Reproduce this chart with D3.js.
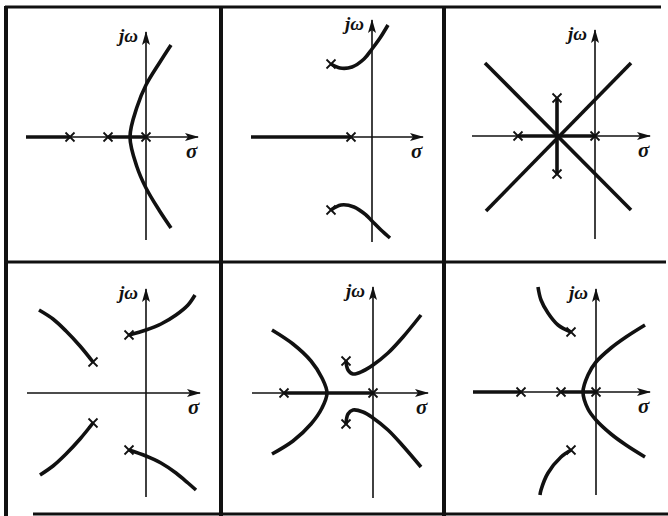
<!DOCTYPE html>
<html>
<head>
<meta charset="utf-8">
<script src="https://cdn.jsdelivr.net/npm/d3@7"></script>
<style>
  body { margin: 0; background: #fff; }
  svg { display: block; }
  .axis-line { stroke: #111; stroke-width: 1.6; fill: none; }
  .locus { stroke: #111; stroke-width: 3.6; fill: none; stroke-linecap: butt; }
  .pole { stroke: #111; stroke-width: 1.8; }
  .lbl { font-family: "Liberation Serif", "DejaVu Serif", serif; font-style: italic; font-weight: bold; fill: #111; }
</style>
</head>
<body>
<svg id="chart" width="668" height="516"></svg>
<script>
// ---- data (units: sigma, omega, origin at axis crossing) ----
var poles1 = [[-76, 0], [-38, 0], [0, 0]];
var realLocus1 = [[-120, -76], [-38, 0]];
var branches1 = [
  [[25, 92], [14, 75], [0, 52], [-9, 30], [-16, 0], [-9, -30], [0, -51], [13, -73], [25, -91]]
];

var poles2 = [[-21, 0], [-41, 73], [-41, -73]];
var realLocus2 = [[-121, -21]];
var branches2 = [
  [[-41, 73], [-32, 69], [-20, 70], [-8, 78], [0, 88], [8, 99], [16, 112]],
  [[-41, -73], [-31, -68], [-18, -70], [-6, -78], [0, -84], [9, -93], [18, -101]]
];

var poles3 = [[-77, 0], [0, 0], [-38, 38], [-38, -38]];
var realLocus3 = [[-77, 0]];
var branches3 = [
  [[-38, 38], [-38, -38]],
  [[-110, 73], [36, -74]],
  [[-109, -75], [36, 73]]
];

var poles4 = [[-17, 58], [-17, -57], [-53, 31], [-53, -30]];
var realLocus4 = [];
var branches4 = [
  [[-53, 31], [-66, 47], [-80, 62], [-93, 74], [-107, 83]],
  [[-53, -30], [-66, -46], [-80, -61], [-93, -73], [-106, -82]],
  [[-17, 58], [0, 63], [15, 69], [30, 78], [42, 88], [49, 98]],
  [[-17, -57], [0, -63], [15, -70], [30, -80], [42, -90], [50, -97]]
];

var poles5 = [[-89, 0], [0, 0], [-27, 32], [-27, -31]];
var realLocus5 = [[-89, 0]];
var branches5 = [
  [[-101, 63], [-80, 49], [-62, 32], [-51, 15], [-46, 0], [-51, -15], [-62, -31], [-80, -48], [-101, -61]],
  [[-27, 32], [-25, 23], [-20, 19], [-10, 22], [0, 28], [15, 40], [30, 56], [48, 78]],
  [[-27, -31], [-25, -21], [-20, -17], [-10, -19], [0, -25], [15, -37], [30, -53], [48, -74]]
];

var poles6 = [[-75, 0], [-35, 0], [0, 0], [-25, 60], [-25, -58]];
var realLocus6 = [[-123, -75], [-35, 0]];
var branches6 = [
  [[49, 67], [30, 55], [15, 44], [0, 30], [-8, 17], [-13, 0], [-8, -17], [0, -28], [15, -42], [30, -53], [49, -65]],
  [[-25, 60], [-38, 67], [-48, 79], [-55, 92], [-58, 105]],
  [[-25, -58], [-35, -65], [-48, -81], [-55, -98], [-56, -103]]
];

var axisLabels = ["j\u03C9", "\u03C3"];

// ---- layout of the six panels ----
var panels = [
  {ox: 146, oy: 137, re: [-120, 52], im: [-103, 105], poles: poles1, real: realLocus1, branches: branches1},
  {ox: 372, oy: 137, re: [-121, 51], im: [-105, 117], poles: poles2, real: realLocus2, branches: branches2},
  {ox: 595, oy: 136, re: [-123, 55], im: [-103, 106], poles: poles3, real: realLocus3, branches: branches3},
  {ox: 146, oy: 393, re: [-119, 54], im: [-104, 104], poles: poles4, real: realLocus4, branches: branches4},
  {ox: 373, oy: 393, re: [-121, 55], im: [-105, 106], poles: poles5, real: realLocus5, branches: branches5},
  {ox: 596, oy: 392, re: [-123, 54], im: [-103, 103], poles: poles6, real: realLocus6, branches: branches6}
];

var svg = d3.select("#chart");

svg.append("defs").append("marker")
  .attr("id", "arrow")
  .attr("viewBox", "0 0 14 8")
  .attr("refX", 13)
  .attr("refY", 4)
  .attr("markerWidth", 14)
  .attr("markerHeight", 8)
  .attr("markerUnits", "userSpaceOnUse")
  .attr("orient", "auto")
  .append("path")
  .attr("d", "M0,0 L14,4 L0,8 L3,4 Z")
  .attr("fill", "#111");

// frame lines
var frame = svg.append("g").attr("stroke", "#111").attr("fill", "none");
frame.append("line").attr("x1", 5).attr("x2", 661).attr("y1", 7).attr("y2", 7).attr("stroke-width", 3);
frame.append("line").attr("x1", 6).attr("x2", 6).attr("y1", 6).attr("y2", 516).attr("stroke-width", 4);
frame.append("line").attr("x1", 221).attr("x2", 221).attr("y1", 6).attr("y2", 516).attr("stroke-width", 4);
frame.append("line").attr("x1", 444).attr("x2", 444).attr("y1", 6).attr("y2", 516).attr("stroke-width", 4);
frame.append("line").attr("x1", 6).attr("x2", 666).attr("y1", 262).attr("y2", 262).attr("stroke-width", 3);
frame.append("line").attr("x1", 33).attr("x2", 668).attr("y1", 514).attr("y2", 514).attr("stroke-width", 3);

var line = d3.line().curve(d3.curveCatmullRom.alpha(0.5));

panels.forEach(function(p) {
  var x = d3.scaleLinear().domain([0, 100]).range([p.ox, p.ox + 100]);
  var y = d3.scaleLinear().domain([0, 100]).range([p.oy, p.oy - 100]);
  var g = svg.append("g");

  // axes
  g.append("line").attr("class", "axis-line")
    .attr("x1", x(p.re[0])).attr("x2", x(p.re[1]))
    .attr("y1", y(0)).attr("y2", y(0))
    .attr("marker-end", "url(#arrow)");
  g.append("line").attr("class", "axis-line")
    .attr("x1", x(0)).attr("x2", x(0))
    .attr("y1", y(p.im[0])).attr("y2", y(p.im[1]))
    .attr("marker-end", "url(#arrow)");

  // axis labels
  g.append("text").attr("class", "lbl")
    .attr("x", x(0) - 8).attr("y", y(p.im[1]) + 10)
    .attr("text-anchor", "end").attr("font-size", 19)
    .text(axisLabels[0]);
  g.append("text").attr("class", "lbl")
    .attr("x", x(p.re[1]) - 12).attr("y", y(0) + 21)
    .attr("font-size", 21)
    .text(axisLabels[1]);

  // real-axis locus segments
  g.selectAll(".real").data(p.real).enter().append("line")
    .attr("class", "locus")
    .attr("x1", d => x(d[0])).attr("x2", d => x(d[1]))
    .attr("y1", y(0)).attr("y2", y(0));

  // branches
  g.selectAll(".branch").data(p.branches).enter().append("path")
    .attr("class", "locus")
    .attr("d", d => line(d.map(pt => [x(pt[0]), y(pt[1])])));

  // poles
  var s = 4.5;
  var pg = g.selectAll(".pole").data(p.poles).enter().append("g")
    .attr("transform", d => "translate(" + x(d[0]) + "," + y(d[1]) + ")");
  pg.append("line").attr("class", "pole").attr("x1", -s).attr("y1", -s).attr("x2", s).attr("y2", s);
  pg.append("line").attr("class", "pole").attr("x1", -s).attr("y1", s).attr("x2", s).attr("y2", -s);
});
</script>
</body>
</html>
